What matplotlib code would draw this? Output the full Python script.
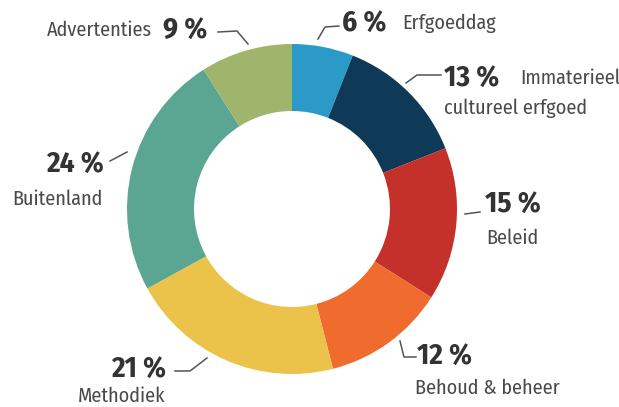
import matplotlib.pyplot as plt

# data
categories = ['Erfgoeddag', 'Immaterieel\ncultureel erfgoed', 'Beleid',
              'Behoud & beheer', 'Methodiek', 'Buitenland', 'Advertenties']
shares = [6, 13, 15, 12, 21, 24, 9]
colors = ['#2c9ac8', '#0f3a57', '#c4302a', '#ef6b2e', '#ebc34b', '#5ba593', '#a0b56c']

plt.rcParams['font.family'] = ['Fira Sans Condensed', 'DejaVu Sans']

W, H = 619, 407
fig = plt.figure(figsize=(W / 100, H / 100), dpi=100)

cx, cy, R, r_in = 292, 209, 165, 98

# pie in a y-up axes spanning the figure in pixel units
ax2 = fig.add_axes([0, 0, 1, 1])
ax2.pie(shares, colors=colors, startangle=90, counterclock=False,
        center=(cx, H - cy), radius=R, frame=True,
        wedgeprops=dict(width=R - r_in, linewidth=0))
ax2.set_xlim(0, W)
ax2.set_ylim(0, H)
ax2.set_aspect('equal')
ax2.axis('off')

# labels in a y-down overlay (pixels from top-left)
ax = fig.add_axes([0, 0, 1, 1])
ax.set_xlim(0, W)
ax.set_ylim(H, 0)
ax.set_aspect('equal')
ax.axis('off')

# (pct x, pct y, pct ha, name x, name y, name ha, leader polyline)
layout = [
    (342, 23, 'left', 402, 23, 'left', [(318, 39), (325, 27), (339, 26)]),
    (444, 78, 'left', 520, 78, 'left', [(406, 83), (417, 75), (441, 75)]),
    (485, 204, 'left', 486, 238, 'left', [(465, 214), (480, 212)]),
    (417, 356, 'left', 415, 388, 'left', [(400, 341), (404, 357), (416, 357)]),
    (166, 369, 'right', 165, 396, 'right', [(175, 371), (190, 371), (207, 358)]),
    (104, 164, 'right', 103, 199, 'right', [(110, 161), (127, 152)]),
    (207, 30, 'right', 152, 30, 'right', [(218, 32), (237, 31), (248, 44)]),
]

for cat, val, (px, py, pha, nx, ny, nha, lead) in zip(categories, shares, layout):
    ax.text(px, py, f'{val} %', ha=pha, va='center', fontsize=21,
            fontweight='bold', color='#333333')
    if '\n' in cat:
        first, second = cat.split('\n')
        ax.text(nx, ny, first, ha='left', va='center', fontsize=14.5, color='#4a4a4a')
        ax.text(px, ny + 30, second, ha='left', va='center', fontsize=14.5, color='#4a4a4a')
    else:
        ax.text(nx, ny, cat, ha=nha, va='center', fontsize=14.5, color='#4a4a4a')
    xs, ys = zip(*lead)
    ax.plot(xs, ys, color='#555555', lw=1.1)

fig.savefig('out.png', dpi=100)
